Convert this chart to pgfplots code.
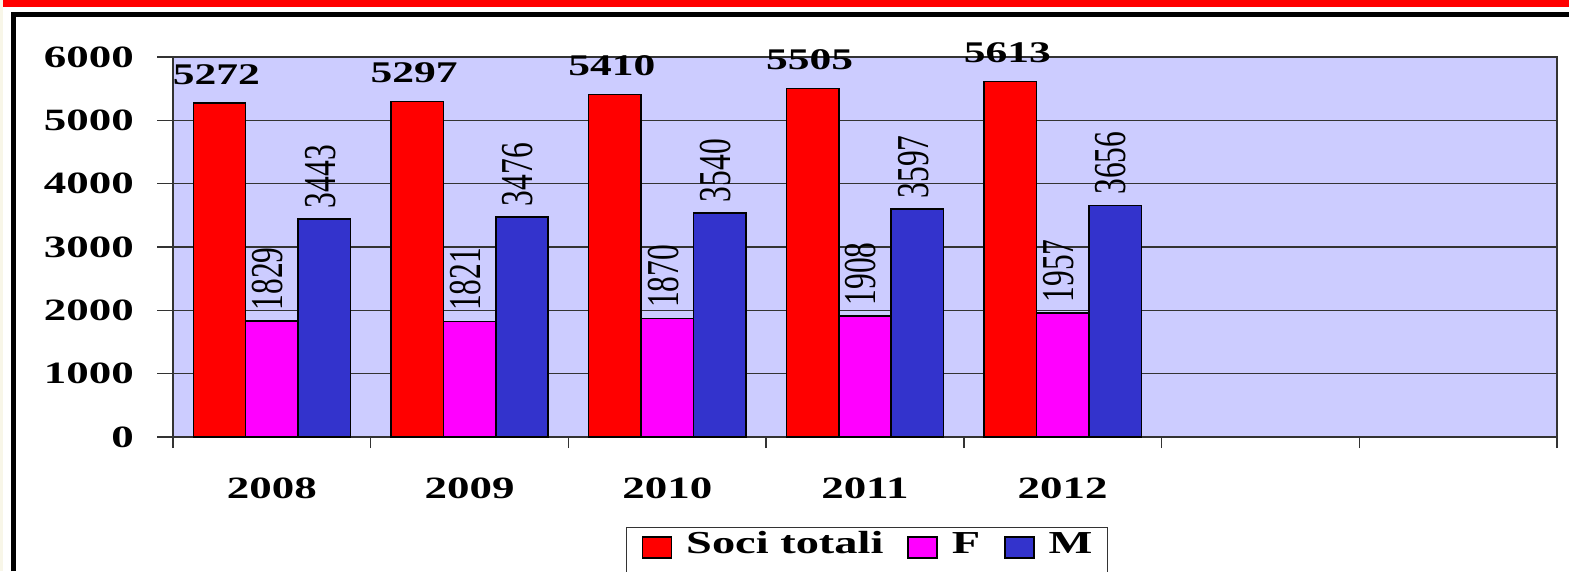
\documentclass[border=0pt]{standalone}
\usepackage{fontspec}
\setmainfont{Liberation Serif}
\usepackage{graphicx}
\usepackage{pgfplots}
\pgfplotsset{compat=1.18}
\definecolor{plotbg}{HTML}{CCCCFF}
\definecolor{sred}{HTML}{FF0000}
\definecolor{smag}{HTML}{FF00FF}
\definecolor{sblue}{HTML}{3333CC}
\definecolor{beige}{HTML}{F8F6E8}
\definecolor{axgray}{HTML}{333333}
\newcommand{\sx}[1]{\scalebox{1.45}[1]{#1}}
\newcommand{\sy}[1]{\scalebox{1}[1.45]{#1}}
\pgfplotsset{sqleg/.style={legend image code/.code={\draw[##1,draw=black,line width=1.5pt] (0pt,-7.7pt) rectangle (29pt,13.3pt);}}}
\begin{document}
\begin{tikzpicture}[x=1pt,y=1pt]
\useasboundingbox (0,0) rectangle (1569,571);
\clip (0,0) rectangle (1569,571);
\fill[white] (0,0) rectangle (1569,571);
\fill[beige] (0,0) rectangle (3,571);
\fill[sred] (3,564) rectangle (1569,571);
\draw[black, line width=5pt] (13.5,0) -- (13.5,556.5) -- (1569,556.5);
\begin{axis}[
  at={(173pt,134pt)}, anchor=south west,
  scale only axis, width=1384pt, height=380pt,
  ybar=0pt, bar width=52.4pt,
  xmin=-0.5, xmax=6.5, ymin=0, ymax=6000,
  xtick={0,1,2,3,4},
  xticklabels={\sx{2008},\sx{2009},\sx{2010},\sx{2011},\sx{2012}},
  minor xtick={-0.5,0.5,1.5,2.5,3.5,4.5,5.5,6.5},
  ytick={0,1000,2000,3000,4000,5000,6000},
  yticklabel={\sx{\pgfmathprintnumber{\tick}}},
  /pgf/number format/assume math mode=true,
  /pgf/number format/1000 sep={},
  scaled y ticks=false,
  tick align=outside,
  xtick pos=bottom, ytick pos=left,
  major tick length=16pt, minor tick length=11pt,
  every major x tick/.append style={draw=none},
  tick style={axgray, line width=1.5pt},
  axis line style={axgray, line width=1.5pt},
  ymajorgrids, major grid style={axgray, line width=1.5pt},
  axis background/.style={fill=plotbg},
  tick label style={font=\fontsize{31}{36}\selectfont\bfseries, text=black},
  xticklabel style={anchor=north, inner sep=0pt, yshift=-25pt},
  yticklabel style={anchor=east, inner sep=0pt, xshift=-23pt},
  clip=false,
  legend columns=3,
  legend style={at={(0.3273,-0.236)}, anchor=north west, draw=axgray, line width=1.5pt, fill=white,
    font=\fontsize{32}{38}\selectfont\bfseries, inner xsep=15pt, inner ysep=4pt,
    nodes={inner sep=0pt, text=black, text depth=16pt},
    /tikz/every odd column/.append style={column sep=14pt},
    /tikz/every even column/.append style={column sep=24pt}},
]
\addplot[fill=sred, draw=black, line width=1.5pt, sqleg,
  nodes near coords={\sx{\pgfmathprintnumber{\pgfplotspointmeta}}},
  every node near coord/.append style={font=\fontsize{30}{36}\selectfont\bfseries, text=black, anchor=south, inner sep=0pt, xshift=-3pt, yshift=18pt}]
  coordinates {(0,5272) (1,5297) (2,5410) (3,5505) (4,5613)};
\addplot[fill=smag, draw=black, line width=1.5pt, sqleg,
  nodes near coords={\sy{\pgfmathprintnumber{\pgfplotspointmeta}}},
  every node near coord/.append style={font=\fontsize{31.5}{36}\selectfont, text=black, xshift=-4pt, yshift=10pt, rotate=90, anchor=west, inner sep=0pt}]
  coordinates {(0,1829) (1,1821) (2,1870) (3,1908) (4,1957)};
\addplot[fill=sblue, draw=black, line width=1.5pt, sqleg,
  nodes near coords={\sy{\pgfmathprintnumber{\pgfplotspointmeta}}},
  every node near coord/.append style={font=\fontsize{31.5}{36}\selectfont, text=black, xshift=-4pt, yshift=10pt, rotate=90, anchor=west, inner sep=0pt}]
  coordinates {(0,3443) (1,3476) (2,3540) (3,3597) (4,3656)};
\addlegendentry{\sx{Soci totali}}
\addlegendentry{\sx{F}}
\addlegendentry{\sx{M}}
\end{axis}
\end{tikzpicture}
\end{document}
